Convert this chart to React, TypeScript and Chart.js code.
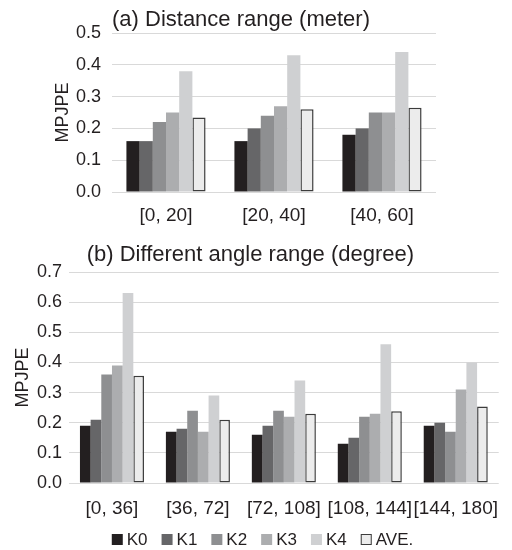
import React, { useEffect, useRef } from "react";
import { Chart, registerables } from "chart.js";

Chart.register(...registerables);

const seriesNames = ["K0", "K1", "K2", "K3", "K4", "AVE."];
const seriesColors = ["#231f20", "#666668", "#8e8f91", "#acadaf", "#cfd0d2", "#ececec"];

const distCategories = ["[0, 20]", "[20, 40]", "[40, 60]"];
const distK0 = [0.16, 0.16, 0.18];
const distK1 = [0.16, 0.2, 0.2];
const distK2 = [0.22, 0.24, 0.25];
const distK3 = [0.25, 0.27, 0.25];
const distK4 = [0.38, 0.43, 0.44];
const distAVE = [0.234, 0.26, 0.265];

const angleCategories = ["[0, 36]", "[36, 72]", "[72, 108]", "[108, 144]", "[144, 180]"];
const angleK0 = [0.19, 0.17, 0.16, 0.13, 0.19];
const angleK1 = [0.21, 0.18, 0.19, 0.15, 0.2];
const angleK2 = [0.36, 0.24, 0.24, 0.22, 0.17];
const angleK3 = [0.39, 0.17, 0.22, 0.23, 0.31];
const angleK4 = [0.63, 0.29, 0.34, 0.46, 0.4];
const angleAVE = [0.356, 0.21, 0.23, 0.238, 0.254];

const distTicksMax = 0.5;
const angleTicksMax = 0.7;

const FONT = '"Liberation Sans", Arial, sans-serif';
const TEXT = "#231f20";

function makeDatasets(series: number[][], catPct: number) {
  return series.map((data, i) => ({
    label: seriesNames[i],
    data,
    backgroundColor: seriesColors[i],
    borderColor: i === 5 ? "#3c3c3c" : seriesColors[i],
    borderWidth: i === 5 ? 1.5 : 0,
    borderSkipped: false as const,
    barPercentage: 1,
    categoryPercentage: catPct,
  }));
}

function titlePlugin(text: string, x: number, y: number) {
  return {
    id: "customTitle",
    afterDraw(chart: any) {
      const ctx = chart.ctx;
      ctx.save();
      ctx.font = `22px ${FONT}`;
      ctx.fillStyle = TEXT;
      ctx.textAlign = "left";
      ctx.textBaseline = "alphabetic";
      ctx.fillText(text, x, y);
      ctx.restore();
    },
  };
}

const legendPlugin = {
  id: "customLegend",
  afterDraw(chart: any) {
    const ctx = chart.ctx;
    ctx.save();
    ctx.font = `17px ${FONT}`;
    const box = 11;
    const gapText = 4;
    const gapItem = 14;
    const widths = chart.data.datasets.map((d: any) => box + gapText + ctx.measureText(d.label).width);
    const total = widths.reduce((a: number, b: number) => a + b, 0) + gapItem * (widths.length - 1);
    let x = 262.5 - total / 2;
    const boxTop = 304;
    chart.data.datasets.forEach((d: any, i: number) => {
      ctx.fillStyle = d.backgroundColor;
      ctx.fillRect(x, boxTop, box, box);
      if (d.borderWidth > 0) {
        ctx.strokeStyle = d.borderColor;
        ctx.lineWidth = 1;
        ctx.strokeRect(x + 0.5, boxTop + 0.5, box - 1, box - 1);
      }
      ctx.fillStyle = TEXT;
      ctx.textAlign = "left";
      ctx.textBaseline = "middle";
      ctx.fillText(d.label, x + box + gapText, boxTop + box / 2 + 0.5);
      x += widths[i] + gapItem;
    });
    ctx.restore();
  },
};

function buildConfig(opts: {
  categories: string[];
  series: number[][];
  max: number;
  catPct: number;
  yWidth: number;
  yTickPad: number;
  yTitlePad: number;
  xHeight: number;
  xTickPad: number;
  padding: any;
  plugins: any[];
}) {
  return {
    type: "bar" as const,
    data: {
      labels: opts.categories,
      datasets: makeDatasets(opts.series, opts.catPct),
    },
    plugins: opts.plugins,
    options: {
      responsive: false,
      animation: false as const,
      layout: { padding: opts.padding },
      plugins: {
        legend: { display: false },
        title: { display: false },
        tooltip: { enabled: false },
      },
      scales: {
        x: {
          grid: { display: false, drawTicks: false },
          border: { display: false },
          ticks: {
            padding: opts.xTickPad,
            color: TEXT,
            font: { size: 19, family: FONT },
            maxRotation: 0,
            autoSkip: false,
          },
          afterFit: (s: any) => {
            s.height = opts.xHeight;
          },
        },
        y: {
          min: 0,
          max: opts.max,
          grid: { color: "#d9d9d9", lineWidth: 1, drawTicks: false },
          border: { display: false },
          ticks: {
            stepSize: 0.1,
            padding: opts.yTickPad,
            color: TEXT,
            font: { size: 18, family: FONT },
            callback: (v: any) => Number(v).toFixed(1),
          },
          title: {
            display: true,
            text: "MPJPE",
            color: TEXT,
            font: { size: 18, family: FONT },
            padding: { top: opts.yTitlePad, bottom: 0 },
          },
          afterFit: (s: any) => {
            s.width = opts.yWidth;
          },
        },
      },
    },
  };
}

export default function App() {
  const ref1 = useRef<HTMLCanvasElement>(null);
  const ref2 = useRef<HTMLCanvasElement>(null);

  useEffect(() => {
    const c1 = new Chart(
      ref1.current as HTMLCanvasElement,
      buildConfig({
        categories: distCategories,
        series: [distK0, distK1, distK2, distK3, distK4, distAVE],
        max: distTicksMax,
        catPct: 0.733,
        yWidth: 112,
        yTickPad: 11,
        yTitlePad: 52.7,
        xHeight: 38,
        xTickPad: 12,
        padding: { top: 33, left: 0, right: 76, bottom: 0 },
        plugins: [titlePlugin("(a) Distance range (meter)", 112, 26)],
      }) as any
    );
    const c2 = new Chart(
      ref2.current as HTMLCanvasElement,
      buildConfig({
        categories: angleCategories,
        series: [angleK0, angleK1, angleK2, angleK3, angleK4, angleAVE],
        max: angleTicksMax,
        catPct: 0.745,
        yWidth: 69,
        yTickPad: 7,
        yTitlePad: 12.7,
        xHeight: 40,
        xTickPad: 14,
        padding: { top: 42, left: 0, right: 0, bottom: 27 },
        plugins: [titlePlugin("(b) Different angle range (degree)", 86.7, 31), legendPlugin],
      }) as any
    );
    return () => {
      c1.destroy();
      c2.destroy();
    };
  }, []);

  return (
    <div style={{ position: "absolute", left: 0, top: 0, width: 512, height: 550, background: "#fff" }}>
      <canvas ref={ref1} width={512} height={230} style={{ position: "absolute", left: 0, top: 0, display: "block" }} />
      <canvas ref={ref2} width={512} height={320} style={{ position: "absolute", left: 0, top: 230, display: "block" }} />
    </div>
  );
}
